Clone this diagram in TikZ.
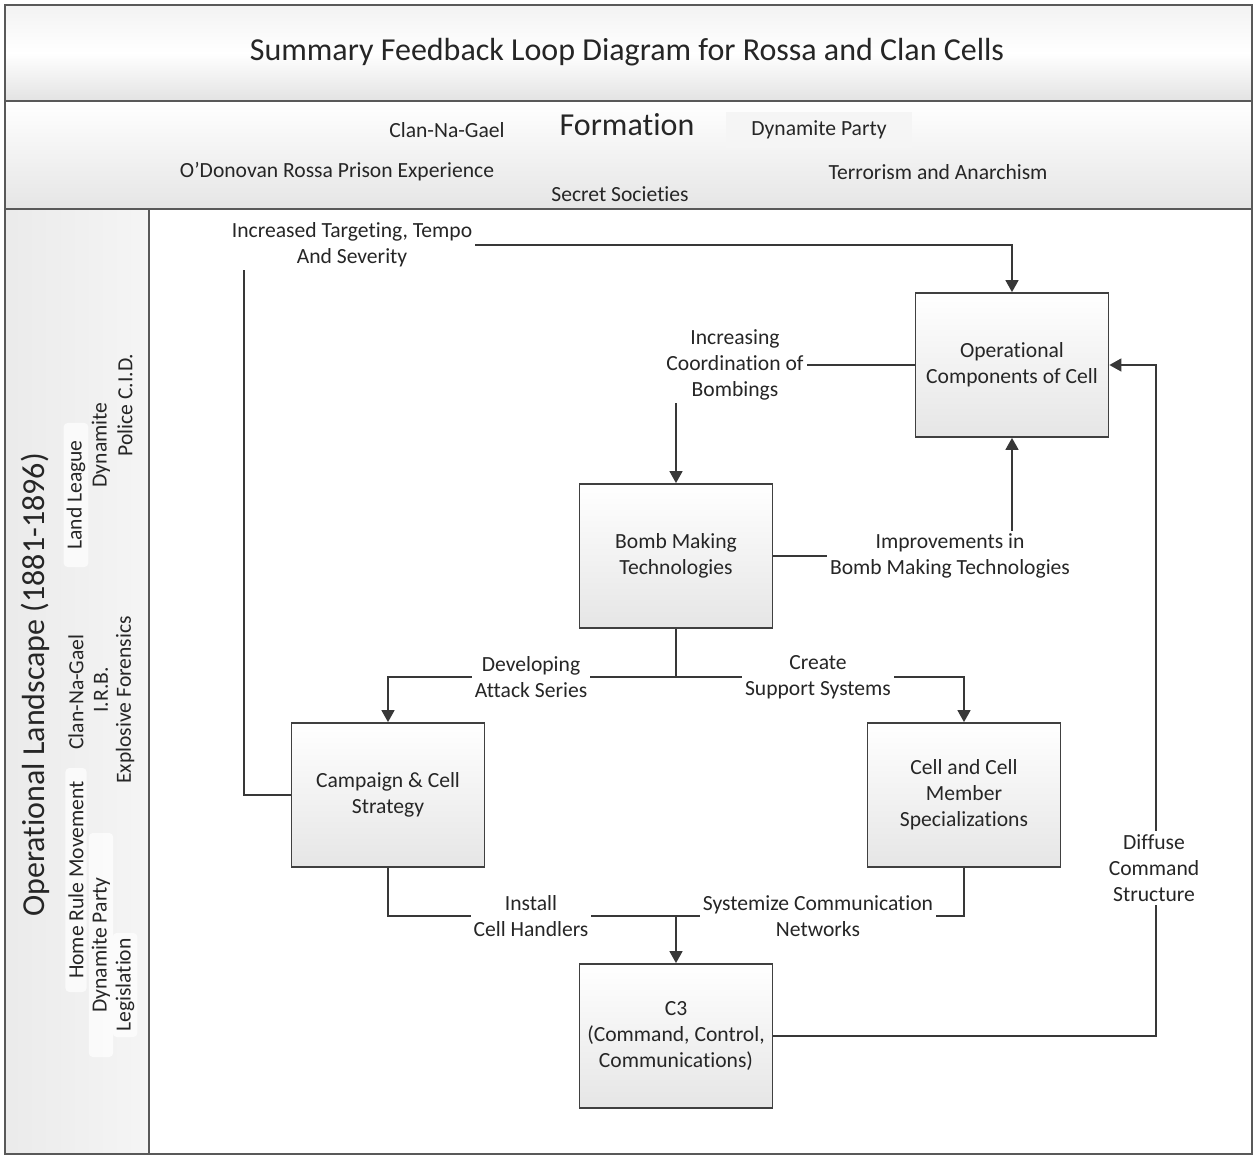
\documentclass[tikz,border=0pt]{standalone}
\usepackage{fontspec}
\setmainfont{Carlito}[Ligatures={NoCommon,NoContextual},Contextuals={NoAlternate}]
\usetikzlibrary{arrows.meta}
\begin{document}
\begin{tikzpicture}[x=0.5pt,y=-0.5pt,
  every node/.style={text=black!85},
  txt/.style={font=\fontsize{10.8}{13}\selectfont,align=center,inner sep=1.5pt},
  big/.style={font=\fontsize{16}{19}\selectfont},
  box/.style={txt,draw=black!75,line width=0.9pt,top color=white,bottom color=black!10,
    minimum width=96.5pt,minimum height=72pt,inner sep=2pt},
  lbl/.style={txt,fill=white},
  side/.style={txt,rotate=90},
  sidebg/.style={side,fill=white,fill opacity=0.7,text opacity=1,rounded corners=2pt},
  conn/.style={draw=black!78,line width=0.8pt},
  arr/.style={conn,-{Triangle[length=6pt,width=6.5pt]}},
  frame/.style={draw=black!65,line width=1pt}]
\useasboundingbox (0,0) rectangle (1254,1155);

% title band
\shade[top color=black!5,bottom color=black!11,middle color=white] (5,5) rectangle (1252,101);
% formation band
\shade[top color=white,bottom color=black!10] (5,101) rectangle (1252,209);
% side band
\shade[left color=black!8,right color=black!4] (5,209) rectangle (149,1154);
\fill[white] (149,209) rectangle (1252,1154);
\draw[frame] (5,5) rectangle (1252,1154);
\draw[frame] (5,101) -- (1252,101);
\draw[frame] (5,209) -- (1252,209);
\draw[frame] (149,209) -- (149,1154);

\node[big] (title) at (627,52) {Summary Feedback Loop Diagram for Rossa and Clan Cells};

% formation context
\node[big] (form) at (627,125) {Formation};
\node[txt] (fclan) at (447,130) {Clan-Na-Gael};
\node[txt,fill=black!4,minimum width=93pt,minimum height=18pt] (fdyn) at (819,130) {Dynamite Party};
\node[txt] (frossa) at (337,172) {O’Donovan Rossa Prison Experience};
\node[txt] (fterr) at (938,172) {Terrorism and Anarchism};
\node[txt] (fsecret) at (620,194) {Secret Societies};

% operational landscape
\node[rotate=90,big] (land) at (35,685) {Operational Landscape (1881-1896)};
\node[sidebg,minimum width=72pt] (s1) at (76,495) {Land League};
\node[side] (s2) at (101,445) {Dynamite};
\node[side] (s3) at (125,405) {Police C.I.D.};
\node[side] (s4) at (76,692) {Clan-Na-Gael};
\node[side] (s5) at (101,690) {I.R.B.};
\node[side] (s6) at (125,700) {Explosive Forensics};
\node[sidebg,minimum width=112pt] (s7) at (76,880) {Home Rule Movement};
\node[sidebg,minimum width=112pt] (s8) at (101,945) {Dynamite Party};
\node[sidebg,minimum width=52pt] (s9) at (125,985) {Legislation};

% process boxes
\node[box] (ops) at (1012,365) {Operational\\Components of Cell};
\node[box] (bomb) at (676,556) {Bomb Making\\Technologies};
\node[box] (camp) at (388,795) {Campaign \& Cell\\Strategy};
\node[box] (cell) at (964,795) {Cell and Cell\\Member\\Specializations};
\node[box] (c3) at (676,1036) {C3\\(Command, Control,\\Communications)};

% junctions and bends
\coordinate (topbend) at (244,245);
\coordinate (split) at (676,677);
\coordinate (merge) at (676,916);
\coordinate (rightbend) at (1156,365);

% feedback connectors
\draw[arr] (camp.west) -| (topbend) -| (ops.north);
\draw[arr] (ops.west) -| (bomb.north);
\draw[arr] (bomb.east) -| (ops.south);
\draw[conn] (bomb.south) -- (split);
\draw[arr] (split) -| (camp.north);
\draw[arr] (split) -| (cell.north);
\draw[conn] (camp.south) |- (merge);
\draw[conn] (cell.south) |- (merge);
\draw[arr] (merge) -- (c3.north);
\draw[arr] (c3.east) -| (rightbend) -- (ops.east);

% connector labels
\node[lbl] (l1) at (352,245) {Increased Targeting, Tempo\\And Severity};
\node[lbl] (l2) at (735,365) {Increasing\\Coordination of\\Bombings};
\node[lbl] (l3) at (950,556) {Improvements in\\Bomb Making Technologies};
\node[lbl] (l4) at (531,677) {Developing\\Attack Series};
\node[lbl] (l5) at (818,677) {Create\\Support Systems};
\node[lbl] (l6) at (531,916) {Install\\Cell Handlers};
\node[lbl] (l7) at (818,916) {Systemize Communication\\Networks};
\node[lbl] (l8) at (1154,868) {Diffuse\\Command\\Structure};
\end{tikzpicture}
\end{document}
